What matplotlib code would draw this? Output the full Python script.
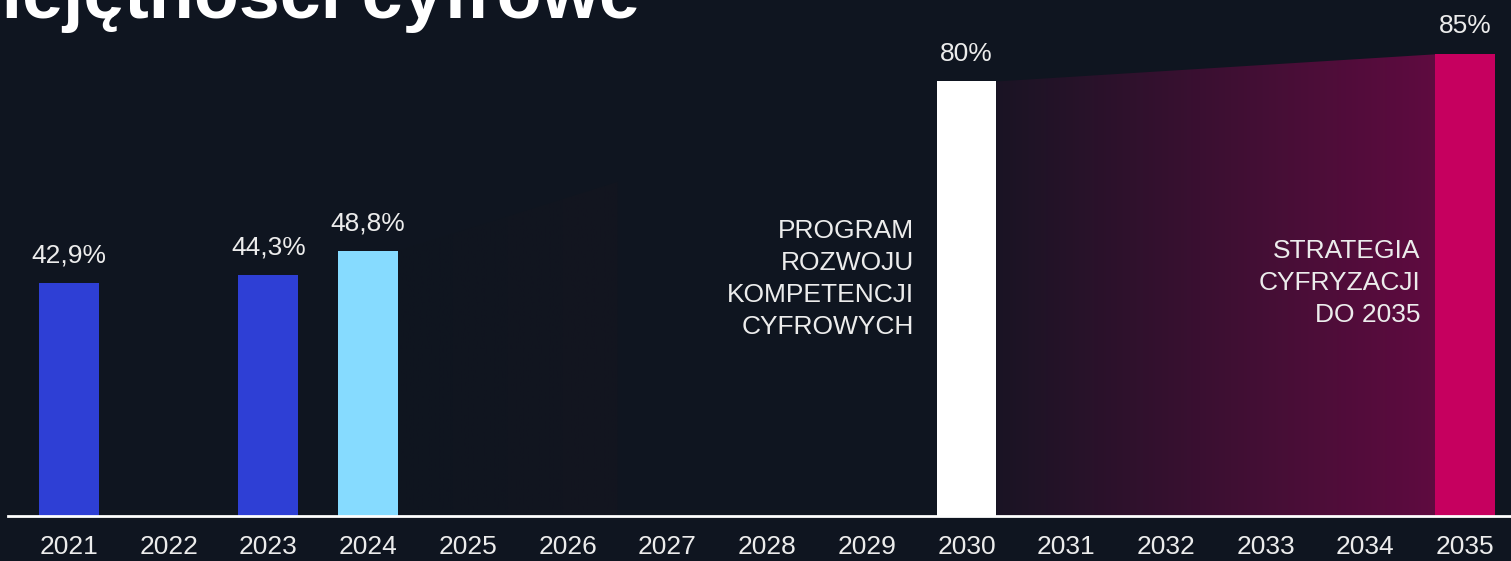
"""Digital skills share by year, with 2030 and 2035 targets."""

import matplotlib.pyplot as plt
import numpy as np
from matplotlib.colors import LinearSegmentedColormap
from matplotlib.patches import Polygon

plt.rcParams["font.family"] = ["Liberation Sans", "DejaVu Sans"]

# data
years = list(range(2021, 2036))
bar_years = [2021, 2023, 2024, 2030, 2035]
bar_values = [42.9, 44.3, 48.8, 80.0, 85.0]
bar_labels = ["42,9%", "44,3%", "48,8%", "80%", "85%"]
bar_colors = ["#2e3fd5", "#2e3fd5", "#86dbff", "#ffffff", "#c6005f"]
faint_years = [2024, 2026.5]
faint_values = [48.8, 61.5]
title = "Umiejętności cyfrowe"
note_2030 = "PROGRAM\nROZWOJU\nKOMPETENCJI\nCYFROWYCH"
note_2035 = "STRATEGIA\nCYFRYZACJI\nDO 2035"

BG = "#0f1520"
TXT = "#ececec"
W = 0.6

fig = plt.figure(figsize=(15.11, 5.61), dpi=100, facecolor=BG)
ax = fig.add_axes([8 / 1511, 45 / 561, 1503 / 1511, 516 / 561])
ax.set_facecolor(BG)


def gradient_fill(x0, x1, y0, y1, c0, c1):
    cmap = LinearSegmentedColormap.from_list("g", [c0, c1])
    grad = np.linspace(0, 1, 256).reshape(1, -1)
    im = ax.imshow(grad, cmap=cmap, extent=[x0, x1, 0, max(y0, y1)],
                   aspect="auto", origin="lower", zorder=1)
    poly = Polygon([(x0, 0), (x0, y0), (x1, y1), (x1, 0)], closed=True,
                   transform=ax.transData, facecolor="none", edgecolor="none")
    ax.add_patch(poly)
    im.set_clip_path(poly)


# faint projection after 2024
gradient_fill(faint_years[0] + W / 2, faint_years[1], faint_values[0],
              faint_values[1], BG, "#13151f")
# path from 2030 target to 2035 target
gradient_fill(bar_years[3] + W / 2, bar_years[4] - W / 2, bar_values[3],
              bar_values[4], "#1a1424", "#5f0b40")
ax.set_xlim(2020.39, 2035.46)
ax.set_ylim(0, 95.0)

ax.bar(bar_years, bar_values, width=W, color=bar_colors, zorder=2)
for x, v, lab in zip(bar_years, bar_values, bar_labels):
    ax.annotate(lab, (x, v), xytext=(0, 15), textcoords="offset points",
                ha="center", va="baseline", color=TXT, fontsize=19)

ax.text(2029.475, 43.6, note_2030, ha="right", va="center", color=TXT,
        fontsize=19, linespacing=1.42)
ax.text(2034.55, 42.9, note_2035, ha="right", va="center", color=TXT,
        fontsize=19, linespacing=1.42)

ax.set_xticks(years)
ax.set_xticklabels([str(y) for y in years])
ax.tick_params(axis="x", length=0, pad=14, colors=TXT, labelsize=19)
ax.set_yticks([])
for s in ["top", "left", "right"]:
    ax.spines[s].set_visible(False)
ax.spines["bottom"].set_color("#ffffff")
ax.spines["bottom"].set_linewidth(2)

fig.text(640 / 1511, 1 - 18 / 561, title, ha="right", va="baseline",
         color="#ffffff", fontsize=53, fontweight="bold")

fig.savefig("out.png", facecolor=BG)
